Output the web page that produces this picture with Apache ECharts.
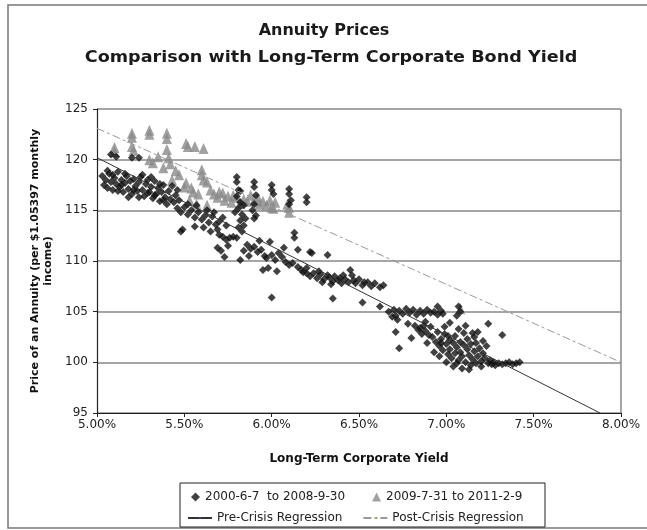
<!DOCTYPE html>
<html>
<head>
<meta charset="utf-8">
<script src="https://cdn.jsdelivr.net/npm/echarts@6/dist/echarts.min.js"></script>
<style>html,body{margin:0;padding:0;background:#fff}#c{width:647px;height:530px}</style>
</head>
<body>
<div id="c"></div>
<script>
const titleLines = ["Annuity Prices", "Comparison with Long-Term Corporate Bond Yield"];
const xAxisName = "Long-Term Corporate Yield";
const yAxisName = "Price of an Annuity (per $1.05397 monthly\nincome)";
const seriesNames = ["2000-6-7  to 2008-9-30", "2009-7-31 to 2011-2-9", "Pre-Crisis Regression", "Post-Crisis Regression"];

// 2000-6-7 to 2008-9-30 : [yield %, price]
const preCrisis = [
 [5.11,120.3],[5.20,120.2],[5.24,120.2],[5.08,120.5],
 [5.03,118.4],[5.04,117.5],[5.05,118.0],[5.06,117.2],[5.07,118.6],[5.08,117.8],[5.09,117.0],[5.10,118.2],[5.11,117.6],[5.12,118.8],
 [5.13,117.3],[5.14,118.0],[5.15,116.8],[5.16,117.7],[5.17,118.4],[5.18,117.1],[5.19,117.9],[5.20,116.6],[5.21,118.1],[5.22,117.4],
 [5.23,116.9],[5.24,117.8],[5.25,118.3],[5.26,117.0],[5.27,116.4],[5.28,117.6],[5.29,118.0],[5.30,116.8],[5.31,117.3],[5.32,116.2],
 [5.33,117.9],[5.34,116.6],[5.35,117.2],[5.36,115.9],[5.37,116.8],[5.38,117.5],[5.39,116.3],[5.40,115.6],[5.41,116.9],[5.42,116.1],
 [5.43,117.4],[5.44,115.8],[5.45,116.5],[5.12,116.9],[5.16,118.6],[5.21,117.0],[5.26,118.5],[5.29,116.7],[5.33,116.5],[5.06,118.9],
 [5.18,116.3],[5.24,116.3],[5.36,117.6],[5.31,118.3],[5.14,117.5],[5.09,118.5],[5.38,116.0],[5.47,116.0],[5.46,117.0],
 [5.46,115.2],[5.48,114.8],[5.50,115.3],[5.52,114.6],[5.54,115.0],[5.56,114.3],[5.58,114.8],[5.60,114.1],[5.62,114.5],[5.64,113.8],
 [5.66,114.4],[5.68,113.6],[5.49,113.1],[5.48,112.9],[5.56,113.4],[5.69,113.1],[5.70,112.6],[5.72,112.4],[5.74,112.1],[5.76,112.3],
 [5.78,112.4],[5.80,112.3],[5.69,111.3],[5.73,110.4],[5.71,111.0],[5.75,111.5],[5.82,110.1],[5.52,115.6],[5.57,115.5],[5.61,113.3],
 [5.65,112.9],[5.63,115.0],[5.67,114.8],[5.70,113.9],[5.72,114.3],[5.74,113.5],
 [5.80,118.3],[5.80,117.8],[5.81,117.0],[5.80,116.4],[5.82,115.8],[5.81,115.2],[5.83,114.6],[5.82,114.0],[5.84,113.5],[5.83,112.9],
 [5.81,113.3],[5.79,114.8],[5.84,115.5],[5.85,114.2],[5.82,116.9],
 [5.90,117.8],[5.90,117.3],[5.91,116.5],[5.90,115.6],[5.89,115.0],[5.91,114.5],[5.90,114.2],
 [6.00,117.5],[6.00,117.0],[6.01,116.6],[6.10,117.1],[6.10,116.6],[6.11,116.0],[6.10,115.6],[6.20,116.3],[6.20,115.8],
 [5.86,111.6],[5.88,111.2],[5.90,111.4],[5.92,110.9],[5.94,111.1],[5.96,110.5],[5.97,110.3],[6.00,110.6],[6.02,110.1],[6.04,110.8],
 [6.06,110.4],[6.08,109.9],[6.10,109.6],[6.12,109.8],[6.15,111.1],[6.13,112.8],[6.13,112.3],[6.22,110.9],[6.23,110.8],[6.32,110.6],
 [5.95,109.1],[5.98,109.3],[6.03,109.0],[6.15,109.4],[6.17,109.1],[6.20,109.3],[6.18,108.9],[6.00,106.4],[5.93,112.0],[5.87,110.5],
 [6.07,111.3],[5.99,111.9],[5.84,111.0],
 [6.20,108.8],[6.22,108.5],[6.24,108.8],[6.26,108.3],[6.28,108.7],[6.30,108.2],[6.32,108.6],[6.33,108.4],[6.35,108.0],[6.36,108.5],
 [6.38,108.1],[6.39,108.3],[6.40,107.8],[6.42,108.2],[6.44,107.9],[6.45,109.1],[6.46,108.6],[6.48,107.8],[6.50,108.2],[6.52,107.6],
 [6.53,107.9],[6.55,107.9],[6.57,107.5],[6.59,107.8],[6.62,107.4],[6.64,107.6],[6.35,106.3],[6.52,105.9],[6.62,105.5],[6.27,109.0],
 [6.41,108.6],[6.47,108.1],[6.34,107.7],[6.29,107.9],
 [6.67,105.0],[6.70,105.2],[6.71,104.6],[6.73,105.1],[6.75,104.8],[6.77,105.3],[6.79,104.9],[6.81,105.2],[6.83,104.7],[6.85,105.1],
 [6.87,104.8],[6.89,105.2],[6.91,104.9],[6.93,105.0],[6.95,104.7],[6.97,105.1],[6.98,104.8],[7.07,105.5],[7.08,105.0],[7.06,104.6],
 [6.69,104.5],[6.72,104.2],[6.95,105.5],
 [6.71,103.0],[6.73,101.4],[6.80,102.4],[6.82,103.6],[6.84,103.2],[6.85,103.4],[6.86,102.8],[6.87,103.6],[6.88,103.1],[6.90,102.7],
 [6.88,104.0],[6.91,103.5],[6.78,103.8],
 [6.92,102.5],[6.94,102.0],[6.95,103.0],[6.96,101.6],[6.97,102.3],[6.98,101.2],[6.99,102.8],[7.00,101.8],[7.01,100.8],[7.02,102.2],
 [7.02,101.3],[7.03,100.4],[7.04,101.9],[7.05,102.6],[7.05,100.9],[7.06,101.5],[7.07,100.2],[7.08,102.0],[7.08,101.0],[7.09,100.6],
 [7.10,101.7],[7.10,102.9],[7.11,100.0],[7.12,101.3],[7.12,102.3],[7.13,100.7],[7.14,101.8],[7.14,99.7],[7.15,100.3],[7.16,101.1],
 [7.16,102.5],[7.17,99.9],[7.18,100.6],[7.18,103.0],[7.19,101.4],[7.20,100.1],[7.20,99.6],[7.21,100.9],[7.22,100.4],[7.23,101.6],
 [7.24,99.9],[7.24,103.8],[7.25,100.2],[7.26,99.8],[7.27,100.0],[7.28,99.7],[7.30,99.9],[7.32,99.8],[7.34,99.9],[7.36,100.0],
 [7.38,99.8],[7.40,99.9],[7.42,100.0],[7.32,102.7],[6.93,101.0],[6.96,100.6],[7.00,100.0],[7.04,99.6],[7.09,99.4],[7.13,99.3],
 [6.89,101.9],[6.99,103.5],[7.02,103.9],[7.07,103.3],[7.11,103.6],[7.15,102.9],[7.17,101.9],[7.21,102.1],[7.06,99.9],[7.01,102.6],
 [6.97,101.9]
];

// 2009-7-31 to 2011-2-9 : [yield %, price]
const postCrisis = [
 [5.10,121.2],[5.10,120.8],[5.20,122.6],[5.20,122.2],[5.20,121.3],[5.21,120.9],[5.30,122.9],[5.30,122.5],[5.40,122.6],[5.40,122.1],
 [5.40,121.0],[5.51,121.6],[5.52,121.3],[5.56,121.3],[5.61,121.1],
 [5.30,120.0],[5.32,119.7],[5.35,120.3],[5.41,120.2],[5.42,119.6],[5.38,119.2],[5.45,118.9],[5.43,118.0],[5.47,118.5],
 [5.51,117.7],[5.50,117.3],[5.54,117.2],[5.55,116.8],[5.58,116.6],[5.60,119.0],[5.60,118.5],[5.61,118.0],[5.63,117.8],[5.65,117.0],
 [5.67,116.6],[5.69,116.3],[5.70,116.8],[5.72,116.7],[5.73,116.0],[5.75,116.4],[5.77,115.8],[5.78,116.5],[5.80,116.3],[5.82,115.7],
 [5.84,116.1],[5.86,115.9],[5.88,116.5],[5.90,116.0],[5.92,116.3],[5.93,115.6],[5.95,115.9],[5.97,115.5],[5.99,116.0],[6.00,115.3],
 [6.01,115.2],[6.02,115.8],[6.10,115.3],[6.10,114.8],[6.09,115.6],[5.57,115.6],[5.53,116.0],[5.63,115.5],[7.08,105.3]
];

// regression line end points [yield %, price]
const preRegression = [[5.00,120.2],[7.88,95.0]];
const postRegression = [[5.00,123.1],[8.00,100.0]];

const xMin = 5, xMax = 8, xStep = 0.5;
const yMin = 95, yMax = 125, yStep = 5;

const chart = echarts.init(document.getElementById('c'), null, {renderer: 'canvas'});
const FONT = '"DejaVu Sans", Verdana, sans-serif';
chart.setOption({
  animation: false,
  backgroundColor: '#fff',
  grid: {left: 97, right: 26, top: 109, bottom: 117, show: false},
  graphic: [
    {type: 'rect', shape: {x: 8, y: 5, width: 660, height: 523}, style: {fill: 'none', stroke: '#777', lineWidth: 1.5}, z: 0},
    {type: 'line', shape: {x1: 621, y1: 109, x2: 621, y2: 413}, style: {stroke: '#888', lineWidth: 1.5}, z: 1},
    {type: 'text', x: 324, y: 31, style: {text: titleLines[0], font: 'bold 16px ' + FONT, fill: '#1a1a1a', textAlign: 'center', textVerticalAlign: 'middle'}},
    {type: 'text', x: 331, y: 58, scaleX: 1.1, style: {text: titleLines[1], font: 'bold 16px ' + FONT, fill: '#1a1a1a', textAlign: 'center', textVerticalAlign: 'middle'}},
    {type: 'rect', shape: {x: 180, y: 483, width: 365, height: 44}, style: {fill: '#fff', stroke: '#222', lineWidth: 1}, z: 5}
  ],
  xAxis: {
    type: 'value', min: xMin, max: xMax, interval: xStep,
    name: xAxisName, nameLocation: 'middle', nameGap: 40,
    nameTextStyle: {fontFamily: FONT, fontSize: 12, fontWeight: 'bold', color: '#111'},
    axisLine: {lineStyle: {color: '#222', width: 1.2}},
    axisTick: {show: true, length: 4, lineStyle: {color: '#222'}},
    axisLabel: {fontFamily: FONT, fontSize: 12, color: '#222', margin: 6, formatter: v => v.toFixed(2) + '%'},
    splitLine: {show: false}
  },
  yAxis: {
    type: 'value', min: yMin, max: yMax, interval: yStep,
    name: yAxisName, nameLocation: 'middle', nameGap: 42, nameRotate: 90,
    nameTextStyle: {fontFamily: FONT, fontSize: 11, fontWeight: 'bold', color: '#111', lineHeight: 13},
    axisLine: {show: true, lineStyle: {color: '#222', width: 1.2}},
    axisTick: {show: true, length: 4, lineStyle: {color: '#222'}},
    axisLabel: {fontFamily: FONT, fontSize: 12, color: '#222', margin: 9},
    splitLine: {show: true, lineStyle: {color: '#888', width: 1.5}}
  },
  legend: [
    {left: 186, top: 486, itemGap: 27, itemWidth: 9, itemHeight: 9, z: 6,
     textStyle: {fontFamily: FONT, fontSize: 12, color: '#222'},
     data: [{name: seriesNames[0], icon: 'diamond'}, {name: seriesNames[1], icon: 'triangle'}]},
    {left: 182, top: 507, itemGap: 20, itemWidth: 24, itemHeight: 2, z: 6,
     textStyle: {fontFamily: FONT, fontSize: 12, color: '#222'},
     data: [{name: seriesNames[2]}, {name: seriesNames[3]}]}
  ],
  series: [
    {name: seriesNames[1], type: 'scatter', data: postCrisis, symbol: 'triangle', symbolSize: [10, 11],
     itemStyle: {color: '#8a8a8a'}, z: 3},
    {name: seriesNames[0], type: 'scatter', data: preCrisis, symbol: 'diamond', symbolSize: 8,
     itemStyle: {color: '#111'}, z: 4},
    {name: seriesNames[2], type: 'line', data: preRegression, symbol: 'none', lineStyle: {color: '#333', width: 1}, z: 5},
    {name: seriesNames[3], type: 'line', data: postRegression, symbol: 'none', lineStyle: {color: '#999', width: 1, type: [8, 3, 3, 3]}, z: 5}
  ]
});
</script>
</body>
</html>
